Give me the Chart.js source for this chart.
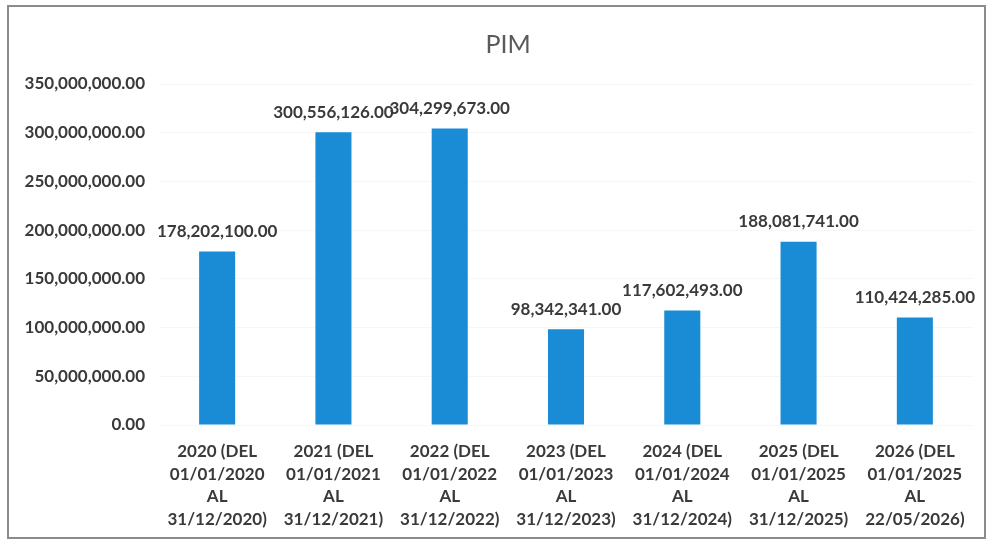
<!DOCTYPE html>
<html>
<head>
<meta charset="utf-8">
<script src="https://cdn.jsdelivr.net/npm/chart.js@4"></script>
<style>
  html, body { margin: 0; padding: 0; background: #fff; }
  #wrap { position: relative; width: 988px; height: 542px; }
  #frame { position: absolute; left: 7px; top: 5px; width: 979px; height: 534px; border: 2px solid #8c8c8c; box-sizing: border-box; pointer-events: none; }
  canvas { position: absolute; left: 0; top: 0; }
</style>
</head>
<body>
<div id="wrap">
  <canvas id="c" width="988" height="542"></canvas>
  <div id="frame"></div>
</div>
<script>
const chartTitle = "PIM";
const categories = [
  ["2020 (DEL", "01/01/2020", "AL", "31/12/2020)"],
  ["2021 (DEL", "01/01/2021", "AL", "31/12/2021)"],
  ["2022 (DEL", "01/01/2022", "AL", "31/12/2022)"],
  ["2023 (DEL", "01/01/2023", "AL", "31/12/2023)"],
  ["2024 (DEL", "01/01/2024", "AL", "31/12/2024)"],
  ["2025 (DEL", "01/01/2025", "AL", "31/12/2025)"],
  ["2026 (DEL", "01/01/2025", "AL", "22/05/2026)"]
];
const pimValues = [178202100.00, 300556126.00, 304299673.00, 98342341.00, 117602493.00, 188081741.00, 110424285.00];
const yMin = 0;
const yMax = 350000000;
const yStep = 50000000;

const fmt = v => Number(v).toLocaleString('en-US', {minimumFractionDigits: 2, maximumFractionDigits: 2});
const TEXT = '#3a3a3a';
const FONT = 'Lato, "Liberation Sans", sans-serif';

const extras = {
  id: 'extras',
  afterDatasetsDraw(chart) {
    const ctx = chart.ctx;
    ctx.save();
    ctx.font = '400 25px ' + FONT;
    ctx.fillStyle = '#5a5a5a';
    ctx.textAlign = 'center';
    ctx.textBaseline = 'middle';
    ctx.fillText(chartTitle, 508, 45);
    ctx.font = '700 17px ' + FONT;
    ctx.fillStyle = TEXT;
    const meta = chart.getDatasetMeta(0);
    meta.data.forEach((bar, i) => {
      ctx.fillText(fmt(pimValues[i]), bar.x, bar.y - 20);
    });
    ctx.restore();
  }
};

new Chart(document.getElementById('c'), {
  type: 'bar',
  data: {
    labels: categories,
    datasets: [{
      label: chartTitle,
      data: pimValues,
      backgroundColor: '#1a8bd5',
      borderWidth: 0,
      barPercentage: 0.31,
      categoryPercentage: 1.0
    }]
  },
  options: {
    responsive: false,
    animation: false,
    devicePixelRatio: 1,
    layout: { padding: { left: 10, right: 15, top: 84, bottom: 11 } },
    plugins: {
      legend: { display: false },
      title: { display: false },
      tooltip: { enabled: false }
    },
    scales: {
      x: {
        afterFit(scale) { scale.height = 106; },
        grid: { display: false, drawTicks: false },
        border: { display: false },
        ticks: {
          color: TEXT,
          font: { family: FONT, size: 17, weight: '700', lineHeight: 1.335 },
          padding: 15,
          maxRotation: 0,
          minRotation: 0,
          autoSkip: false
        }
      },
      y: {
        min: yMin,
        max: yMax,
        afterFit(scale) { scale.width = 149; },
        grid: { color: '#f7f7f7', drawTicks: false },
        border: { display: false },
        ticks: {
          stepSize: yStep,
          color: TEXT,
          font: { family: FONT, size: 17, weight: '700' },
          padding: 14,
          callback: v => fmt(v)
        }
      }
    }
  },
  plugins: [extras]
});
</script>
</body>
</html>
